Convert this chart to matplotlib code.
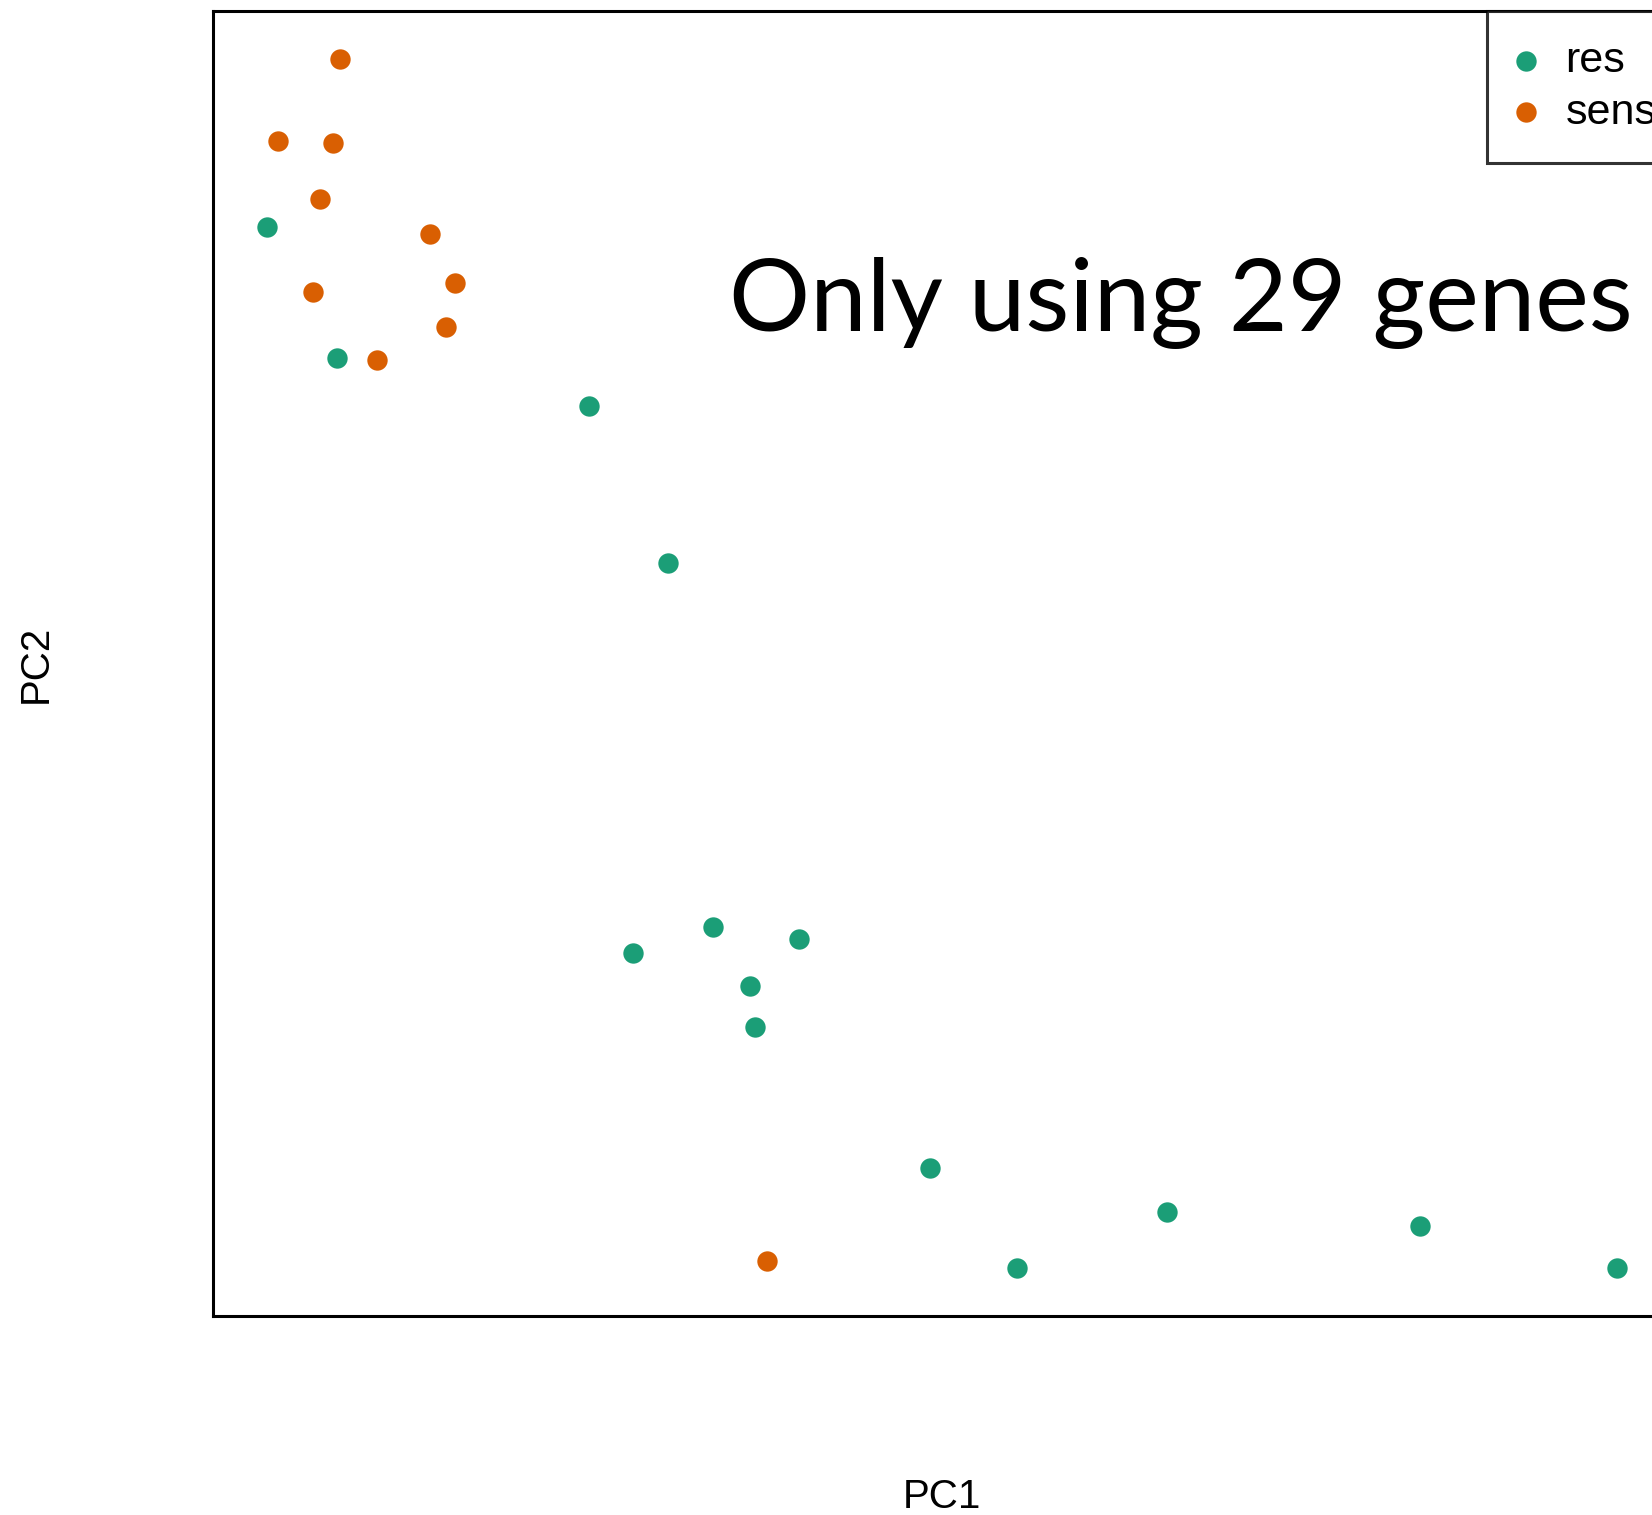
import numpy as np
import matplotlib
matplotlib.use("Agg")
import matplotlib.pyplot as plt

# PCA scores (PC1, PC2) per sample, split by response group
res_pc1 = [-9.03, -8.03, -4.44, -3.31, -3.81, -2.66, -1.44, -2.14, -2.07, 0.43, 1.67, 3.81, 7.43, 10.24]
res_pc2 = [6.76, 4.90, 4.21, 1.96, -3.61, -3.23, -3.41, -4.07, -4.66, -6.67, -8.10, -7.30, -7.51, -8.10]
sens_pc1 = [-7.99, -8.87, -8.09, -8.27, -6.70, -8.37, -6.34, -6.47, -7.46, -1.90]
sens_pc2 = [9.16, 7.99, 7.97, 7.16, 6.66, 5.83, 5.96, 5.33, 4.86, -8.00]

groups = ["res", "sens"]
colores = ["#1B9E77", "#D95F02"]

plt.rcParams['font.family'] = ['Liberation Sans', 'DejaVu Sans']

W, H = 1652, 1515
fig = plt.figure(figsize=(W / 100, H / 100), dpi=100)
# plot region (R-style, right side runs slightly past the canvas)
x0, x1, y0, y1 = 213, 1671, 11, 1316
ax = fig.add_axes([x0 / W, (H - y1) / H, (x1 - x0) / W, (y1 - y0) / H])

ax.scatter(res_pc1, res_pc2, s=215, color=colores[0], label=groups[0], linewidths=0)
ax.scatter(sens_pc1, sens_pc2, s=215, color=colores[1], label=groups[1], linewidths=0)

# 4% padding on both axes, like base R
allx = np.array(res_pc1 + sens_pc1)
ally = np.array(res_pc2 + sens_pc2)
dx = 0.04 * (allx.max() - allx.min())
dy = 0.04 * (ally.max() - ally.min())
ax.set_xlim(allx.min() - dx, allx.max() + dx)
ax.set_ylim(ally.min() - dy, ally.max() + dy)

ax.set_xticks([])
ax.set_yticks([])
for sp in ax.spines.values():
    sp.set_linewidth(2.2)
    sp.set_color('black')

ax.set_xlabel('PC1', fontsize=29, labelpad=117)
ax.set_ylabel('PC2', fontsize=29, labelpad=114)

ax.text(-2.43, 5.28, 'Only using 29 genes', fontsize=73, family=['Lato', 'DejaVu Sans'],
        ha='left', va='baseline')

leg_x = (1487 - x0) / (x1 - x0)
leg = ax.legend(loc='upper left', bbox_to_anchor=(leg_x, 1), borderaxespad=0,
                fontsize=31, frameon=True, fancybox=False, edgecolor='black',
                handlelength=0.4, handletextpad=0.72, borderpad=0.7, labelspacing=0.27,
                markerscale=1.0)
leg.get_frame().set_linewidth(2.2)

fig.savefig('out.png', dpi=100)
